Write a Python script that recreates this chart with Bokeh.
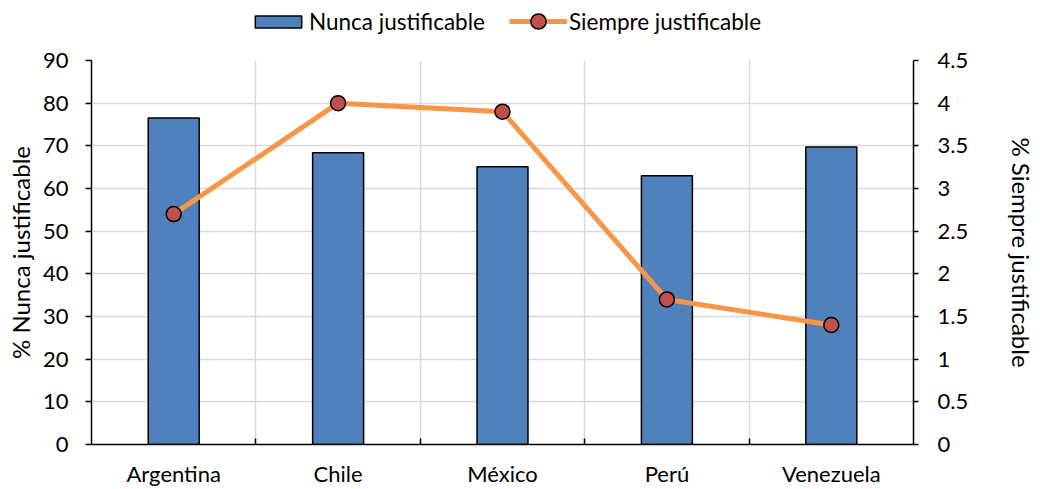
from bokeh.plotting import figure
from bokeh.layouts import column
from bokeh.models import (Range1d, LinearAxis, FixedTicker, Legend, LegendItem,
                          ColumnDataSource)
from bokeh.embed import file_html
from bokeh.resources import INLINE

countries = ["Argentina", "Chile", "México", "Perú", "Venezuela"]
nunca = [76.5, 68.4, 65.1, 63.0, 69.7]
siempre = [2.7, 4.0, 3.9, 1.7, 1.4]
left_ticks = [0, 10, 20, 30, 40, 50, 60, 70, 80, 90]
right_ticks = [0, 0.5, 1, 1.5, 2, 2.5, 3, 3.5, 4, 4.5]
right_tick_labels = ["0", "0.5", "1", "1.5", "2", "2.5", "3", "3.5", "4", "4.5"]
series_names = ["Nunca justificable", "Siempre justificable"]

x = list(range(len(countries)))
src = ColumnDataSource(dict(x=x, nunca=nunca, siempre=siempre))

FONT = "Lato"
FS = "22px"
TITLE_FS = "24px"
LEG_FS = "22.5px"

BAR_FILL = "#4F81BD"
LINE_COL = "#F79646"
MARK_FILL = "#C0504D"

# ---------------- main chart ----------------
p = figure(width=1040, height=444, output_backend="svg", toolbar_location=None,
           x_range=Range1d(-0.5, len(countries) - 0.5), y_range=Range1d(0, 90),
           min_border_left=91, min_border_right=127, min_border_top=15,
           min_border_bottom=43)
p.outline_line_color = None
p.background_fill_color = "white"
p.border_fill_color = "white"

p.extra_y_ranges = {"right": Range1d(0, 4.5)}

p.ygrid.ticker = FixedTicker(ticks=left_ticks)
p.ygrid.grid_line_color = "#d9d9d9"
p.ygrid.grid_line_width = 1.5
p.xgrid.ticker = FixedTicker(ticks=[i + 0.5 for i in x[:-1]])
p.xgrid.grid_line_color = "#d9d9d9"
p.xgrid.grid_line_width = 1.5

xa = p.xaxis[0]
xa.ticker = FixedTicker(ticks=x, minor_ticks=[i + 0.5 for i in x[:-1]])
xa.major_label_overrides = {i: c for i, c in zip(x, countries)}
xa.major_tick_in = 0
xa.major_tick_out = 0
xa.minor_tick_in = 6
xa.minor_tick_out = 0
xa.minor_tick_line_color = "black"
xa.minor_tick_line_width = 1.5
xa.axis_line_color = "black"
xa.axis_line_width = 1.5
xa.major_label_standoff = 15
xa.major_label_text_font = FONT
xa.major_label_text_font_size = FS
xa.major_label_text_color = "black"

ya = p.yaxis[0]
ya.ticker = FixedTicker(ticks=left_ticks)
ya.minor_tick_line_color = None
ya.major_tick_in = 0
ya.major_tick_out = 6
ya.major_tick_line_width = 1.5
ya.axis_line_width = 1.5
ya.axis_line_color = "black"
ya.major_label_standoff = 17
ya.major_label_text_font = FONT
ya.major_label_text_font_size = FS
ya.major_label_text_color = "black"
ya.axis_label = "% Nunca justificable"
ya.axis_label_text_font = FONT
ya.axis_label_text_font_size = TITLE_FS
ya.axis_label_text_font_style = "normal"
ya.axis_label_text_color = "black"
ya.axis_label_standoff = 5

ra = LinearAxis(y_range_name="right", ticker=FixedTicker(ticks=right_ticks))
ra.major_label_overrides = {t: l for t, l in zip(right_ticks, right_tick_labels)}
ra.minor_tick_line_color = None
ra.major_tick_in = 0
ra.major_tick_out = 5
ra.major_tick_line_width = 1.5
ra.axis_line_width = 1.5
ra.axis_line_color = "black"
ra.major_label_standoff = 19
ra.major_label_text_font = FONT
ra.major_label_text_font_size = FS
ra.major_label_text_color = "black"
ra.axis_label = "% Siempre justificable"
ra.axis_label_text_font = FONT
ra.axis_label_text_font_size = TITLE_FS
ra.axis_label_text_font_style = "normal"
ra.axis_label_text_color = "black"
ra.axis_label_standoff = 36
p.add_layout(ra, "right")

p.vbar(x="x", top="nunca", bottom=0, width=0.31, source=src,
       fill_color=BAR_FILL, line_color="black", line_width=1.5)
p.line(x="x", y="siempre", source=src, y_range_name="right",
       line_color=LINE_COL, line_width=5)
p.scatter(x="x", y="siempre", source=src, y_range_name="right",
          size=15, fill_color=MARK_FILL, line_color="black", line_width=1.5)

# ---------------- legend strip ----------------
lg = figure(width=1040, height=45, output_backend="svg", toolbar_location=None,
            x_range=Range1d(0, 1), y_range=Range1d(0, 1),
            x_axis_type=None, y_axis_type=None,
            min_border_left=0, min_border_right=0, min_border_top=0,
            min_border_bottom=0)
lg.outline_line_color = None
lg.xgrid.visible = False
lg.ygrid.visible = False
# off-screen proxy glyphs, only used to draw the legend swatches
proxy = ColumnDataSource(dict(x=[-10], y=[-10]))
lb = lg.vbar(x="x", top="y", width=0.1, source=proxy,
             fill_color=BAR_FILL, line_color="black", line_width=1.5)
ll = lg.line(x="x", y="y", source=proxy, line_color=LINE_COL, line_width=5)
lm = lg.scatter(x="x", y="y", source=proxy, size=15, fill_color=MARK_FILL,
                line_color="black", line_width=1.5)

common = dict(orientation="horizontal", padding=0, margin=0,
              border_line_color=None, background_fill_alpha=0,
              label_text_font=FONT, label_text_font_size=LEG_FS,
              label_text_color="black")
leg1 = Legend(items=[LegendItem(label=series_names[0], renderers=[lb])],
              location=(158, 10), glyph_width=58, glyph_height=15,
              label_standoff=2, **common)
leg2 = Legend(items=[LegendItem(label=series_names[1], renderers=[ll, lm])],
              location=(418, 5), glyph_width=58, glyph_height=38,
              label_standoff=2, **common)
lg.add_layout(leg1, "center")
lg.add_layout(leg2, "center")

layout = column(lg, p, spacing=0)
open("out.html", "w").write(file_html(layout, INLINE))
